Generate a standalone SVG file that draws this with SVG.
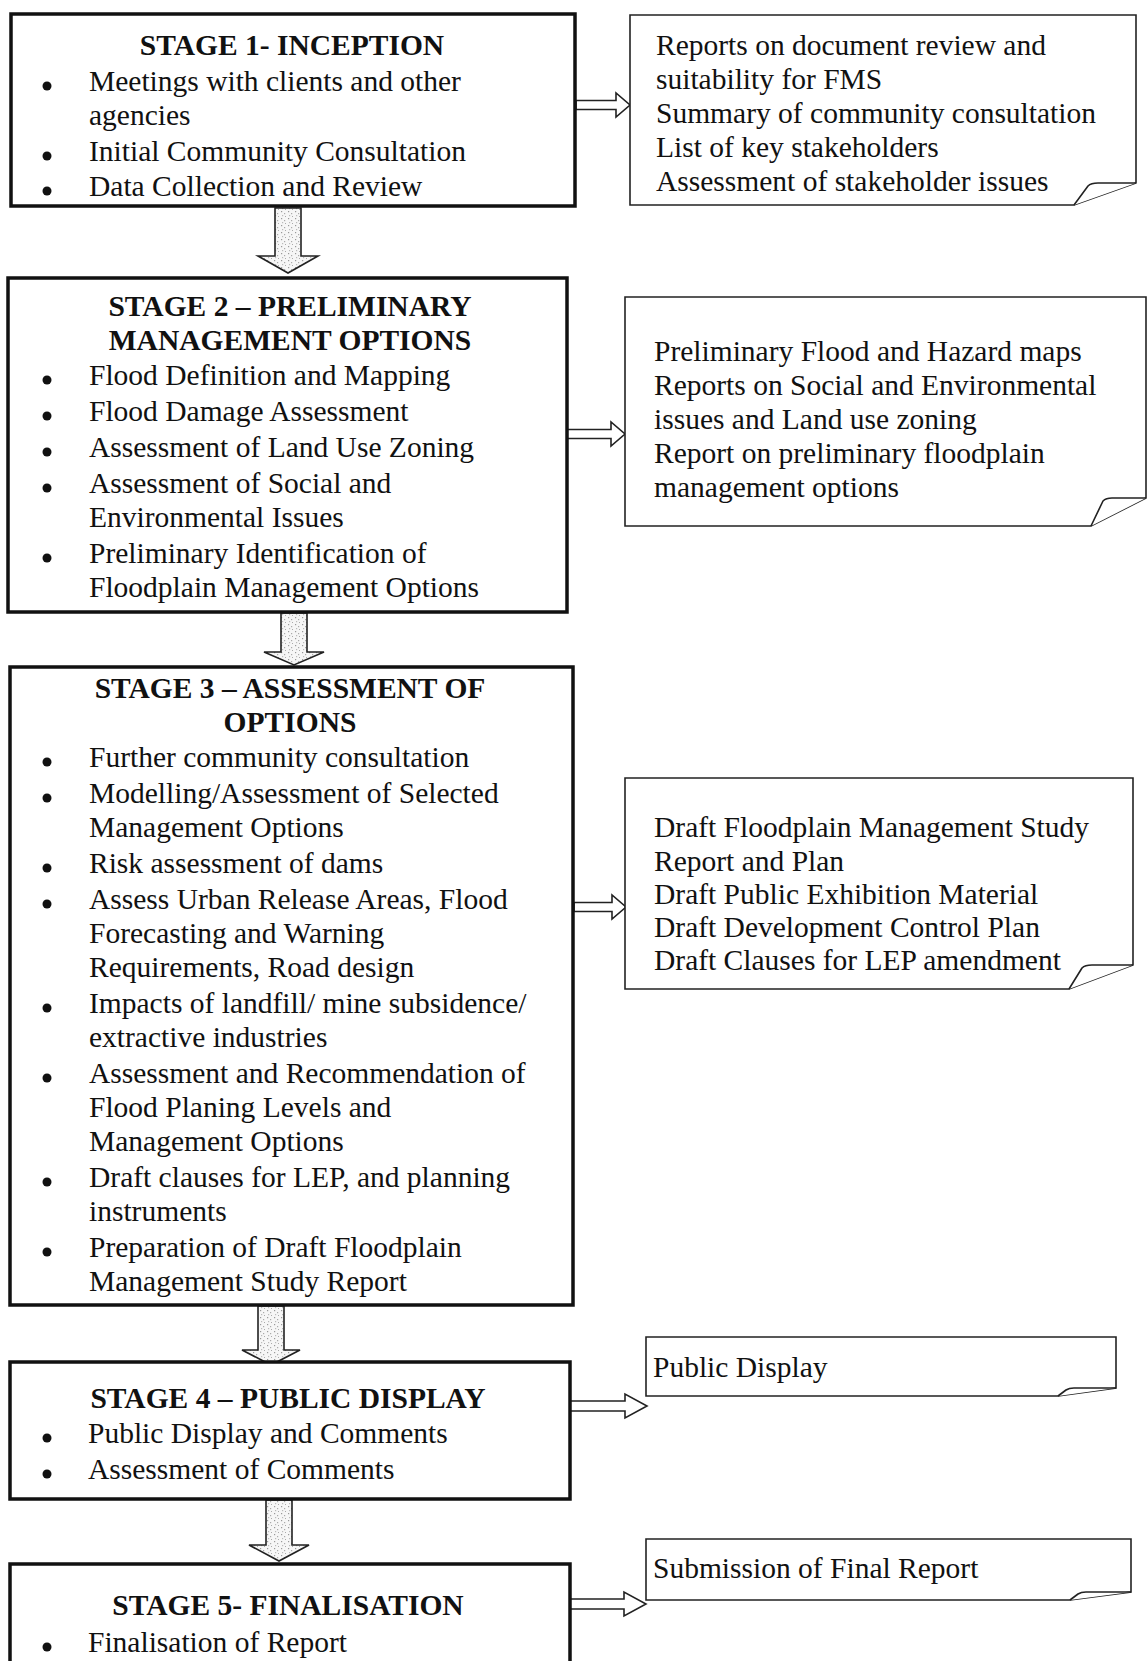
<svg xmlns="http://www.w3.org/2000/svg" width="1148" height="1661" viewBox="0 0 1148 1661">
<defs>
<pattern id="speck" width="7" height="7" patternUnits="userSpaceOnUse">
<rect width="7" height="7" fill="#f6f6f6"/>
<rect x="1" y="1" width="1.2" height="1.2" fill="#999"/>
<rect x="4" y="3" width="1.2" height="1.2" fill="#aaa"/>
<rect x="2" y="5" width="1.2" height="1.2" fill="#bbb"/>
<rect x="5" y="6" width="1" height="1" fill="#aaa"/>
</pattern>
</defs>
<style>
.box{fill:#fff;stroke:#111;stroke-width:3.5}
.note{fill:#fff;stroke:#222;stroke-width:1.6}
.flap{fill:#fff;stroke:#222;stroke-width:1.6;stroke-linejoin:round}
.t{font-family:"Liberation Serif","Times New Roman",serif;font-size:29.5px;fill:#111}
.h{font-weight:bold;text-anchor:middle}
.down{fill:url(#speck);stroke:#222;stroke-width:1.6;stroke-linejoin:miter}
.right{fill:#fff;stroke:#222;stroke-width:1.6;stroke-linejoin:miter}
.b{fill:#111}
</style>
<rect width="1148" height="1661" fill="#fff"/>

<g id="connectors">
<path class="down" d="M275,208 H301 V256 H318 L288,273 L258,256 H275 Z"/>
<path class="down" d="M281,613 H307 V652 H324 L294,665 L264,652 H281 Z"/>
<path class="down" d="M258,1306 H284 V1350 H300 L271,1365 L242,1350 H258 Z"/>
<path class="down" d="M266,1500 H292 V1545 H309 L279,1561 L249,1545 H266 Z"/>
<path class="right" d="M576,100.5 H616 V93 L630,105 L616,117 V109.5 H576 Z"/>
<path class="right" d="M567,429.5 H611 V422 L625,434 L611,446 V438.5 H567 Z"/>
<path class="right" d="M574,902.5 H612 V895 L626,907 L612,919 V911.5 H574 Z"/>
<path class="right" d="M570,1401 H625 V1394 L647,1406 L625,1418 V1411 H570 Z"/>
<path class="right" d="M570,1599 H624 V1592 L646,1604 L624,1616 V1609 H570 Z"/>
</g>

<g id="stage1">
<rect class="box" x="11" y="14" width="564" height="192"/>
<text class="t h" x="292" y="55">STAGE 1- INCEPTION</text>
<circle class="b" cx="47" cy="86" r="4.5"/>
<text class="t" x="89" y="91">Meetings with clients and other</text>
<text class="t" x="89" y="125">agencies</text>
<circle class="b" cx="47" cy="156" r="4.5"/>
<text class="t" x="89" y="161">Initial Community Consultation</text>
<circle class="b" cx="47" cy="191" r="4.5"/>
<text class="t" x="89" y="196">Data Collection and Review</text>
</g>

<g id="note1">
<path class="note" d="M630,15 H1136 V183 L1074,205 H630 Z"/>
<path class="flap" d="M1074,205 L1088,186 Q1091,183 1098,183 L1136,183"/>
<text class="t" x="656" y="55">Reports on document review and</text>
<text class="t" x="656" y="89">suitability for FMS</text>
<text class="t" x="656" y="123">Summary of community consultation</text>
<text class="t" x="656" y="157">List of key stakeholders</text>
<text class="t" x="656" y="191">Assessment of stakeholder issues</text>
</g>

<g id="stage2">
<rect class="box" x="8" y="278" width="559" height="334"/>
<text class="t h" x="290" y="316">STAGE 2 – PRELIMINARY</text>
<text class="t h" x="290" y="350">MANAGEMENT OPTIONS</text>
<circle class="b" cx="47" cy="380" r="4.5"/>
<text class="t" x="89" y="385">Flood Definition and Mapping</text>
<circle class="b" cx="47" cy="416" r="4.5"/>
<text class="t" x="89" y="421">Flood Damage Assessment</text>
<circle class="b" cx="47" cy="452" r="4.5"/>
<text class="t" x="89" y="457">Assessment of Land Use Zoning</text>
<circle class="b" cx="47" cy="488" r="4.5"/>
<text class="t" x="89" y="493">Assessment of Social and</text>
<text class="t" x="89" y="527">Environmental Issues</text>
<circle class="b" cx="47" cy="558" r="4.5"/>
<text class="t" x="89" y="563">Preliminary Identification of</text>
<text class="t" x="89" y="597">Floodplain Management Options</text>
</g>

<g id="note2">
<path class="note" d="M625,297 H1146 V498 L1091,526 H625 Z"/>
<path class="flap" d="M1091,526 L1103,501 Q1106,498 1112,498 L1146,498"/>
<text class="t" x="654" y="361">Preliminary Flood and Hazard maps</text>
<text class="t" x="654" y="395">Reports on Social and Environmental</text>
<text class="t" x="654" y="429">issues and Land use zoning</text>
<text class="t" x="654" y="463">Report on preliminary floodplain</text>
<text class="t" x="654" y="497">management options</text>
</g>

<g id="stage3">
<rect class="box" x="10" y="667" width="563" height="638"/>
<text class="t h" x="290" y="698">STAGE 3 – ASSESSMENT OF</text>
<text class="t h" x="290" y="732">OPTIONS</text>
<circle class="b" cx="47" cy="762" r="4.5"/>
<text class="t" x="89" y="767">Further community consultation</text>
<circle class="b" cx="47" cy="798" r="4.5"/>
<text class="t" x="89" y="803">Modelling/Assessment of Selected</text>
<text class="t" x="89" y="837">Management Options</text>
<circle class="b" cx="47" cy="868" r="4.5"/>
<text class="t" x="89" y="873">Risk assessment of dams</text>
<circle class="b" cx="47" cy="904" r="4.5"/>
<text class="t" x="89" y="909">Assess Urban Release Areas, Flood</text>
<text class="t" x="89" y="943">Forecasting and Warning</text>
<text class="t" x="89" y="977">Requirements, Road design</text>
<circle class="b" cx="47" cy="1008" r="4.5"/>
<text class="t" x="89" y="1013">Impacts of landfill/ mine subsidence/</text>
<text class="t" x="89" y="1047">extractive industries</text>
<circle class="b" cx="47" cy="1078" r="4.5"/>
<text class="t" x="89" y="1083">Assessment and Recommendation of</text>
<text class="t" x="89" y="1117">Flood Planing Levels and</text>
<text class="t" x="89" y="1151">Management Options</text>
<circle class="b" cx="47" cy="1182" r="4.5"/>
<text class="t" x="89" y="1187">Draft clauses for LEP, and planning</text>
<text class="t" x="89" y="1221">instruments</text>
<circle class="b" cx="47" cy="1252" r="4.5"/>
<text class="t" x="89" y="1257">Preparation of Draft Floodplain</text>
<text class="t" x="89" y="1291">Management Study Report</text>
</g>

<g id="note3">
<path class="note" d="M625,778 H1133 V965 L1069,989 H625 Z"/>
<path class="flap" d="M1069,989 L1082,968 Q1085,965 1092,965 L1133,965"/>
<text class="t" x="654" y="837">Draft Floodplain Management Study</text>
<text class="t" x="654" y="871">Report and Plan</text>
<text class="t" x="654" y="904">Draft Public Exhibition Material</text>
<text class="t" x="654" y="937">Draft Development Control Plan</text>
<text class="t" x="654" y="970">Draft Clauses for LEP amendment</text>
</g>

<g id="stage4">
<rect class="box" x="10" y="1362" width="560" height="137"/>
<text class="t h" x="288" y="1408">STAGE 4 – PUBLIC DISPLAY</text>
<circle class="b" cx="47" cy="1438" r="4.5"/>
<text class="t" x="88" y="1443">Public Display and Comments</text>
<circle class="b" cx="47" cy="1474" r="4.5"/>
<text class="t" x="88" y="1479">Assessment of Comments</text>
</g>

<g id="note4">
<path class="note" d="M646,1337 H1116 V1388 L1058,1396 H646 Z"/>
<path class="flap" d="M1058,1396 L1066,1390 Q1069,1388 1074,1388 L1116,1388"/>
<text class="t" x="653" y="1377">Public Display</text>
</g>

<g id="stage5">
<rect class="box" x="10" y="1564" width="560" height="110"/>
<text class="t h" x="288" y="1615">STAGE 5- FINALISATION</text>
<circle class="b" cx="47" cy="1647" r="4.5"/>
<text class="t" x="88" y="1652">Finalisation of Report</text>
</g>

<g id="note5">
<path class="note" d="M646,1539 H1131 V1592 L1070,1600 H646 Z"/>
<path class="flap" d="M1070,1600 L1078,1594 Q1081,1592 1086,1592 L1131,1592"/>
<text class="t" x="653" y="1578">Submission of Final Report</text>
</g>
</svg>
